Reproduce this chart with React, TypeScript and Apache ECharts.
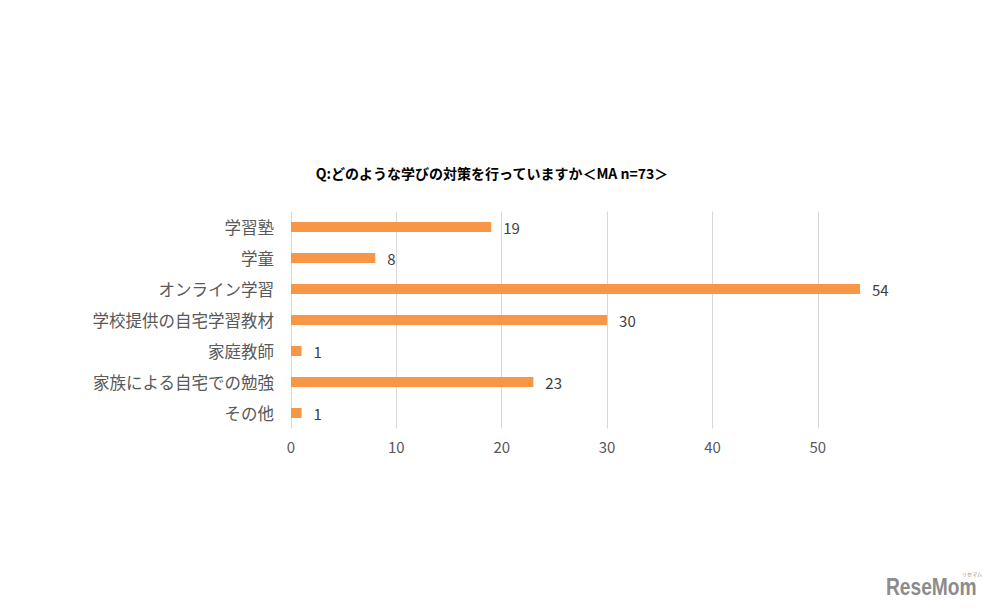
import React, { useEffect, useRef } from "react";
import * as echarts from "echarts";

const titleText = "Q:どのような学びの対策を行っていますか＜MA n=73＞";
const categories = [
  "学習塾",
  "学童",
  "オンライン学習",
  "学校提供の自宅学習教材",
  "家庭教師",
  "家族による自宅での勉強",
  "その他",
];
const values = [19, 8, 54, 30, 1, 23, 1];

export default function App() {
  const ref = useRef<HTMLDivElement>(null);
  useEffect(() => {
    document.body.style.margin = "0";
    if (!ref.current) return;
    const chart = echarts.init(ref.current, undefined, { renderer: "svg" });
    chart.setOption({
      animation: false,
      backgroundColor: "#ffffff",
      title: {
        text: titleText,
        left: 487,
        textAlign: "center",
        top: 161,
        textStyle: {
          fontSize: 14,
          fontWeight: "bold",
          color: "#000000",
          fontFamily: "Noto Sans CJK JP",
        },
      },
      grid: { left: 291, right: 136, top: 211.5, bottom: 181.5, containLabel: false },
      xAxis: {
        type: "value",
        min: 0,
        max: 54,
        interval: 10,
        axisLine: { show: false },
        axisTick: { show: false },
        splitLine: { show: true, showMaxLine: false, lineStyle: { color: "#d9d9d9", width: 1 } },
        axisLabel: {
          showMaxLabel: false,
          color: "#595959",
          fontSize: 15,
          margin: 10,
          fontFamily: "Noto Sans CJK JP",
          formatter: (v: number) => (v % 10 === 0 ? String(v) : ""),
        },
      },
      yAxis: {
        type: "category",
        data: categories,
        inverse: true,
        axisLine: { show: false },
        axisTick: { show: false },
        axisLabel: {
          color: "#595959",
          fontSize: 16.5,
          margin: 17,
          fontFamily: "Noto Sans CJK JP",
        },
      },
      series: [
        {
          type: "bar",
          data: values,
          barWidth: 10,
          itemStyle: { color: "#f79646" },
          label: {
            show: true,
            position: "right",
            distance: 12,
            color: "#404040",
            fontSize: 15,
            fontFamily: "Noto Sans CJK JP",
          },
        },
      ],
      graphic: [
        {
          type: "text",
          x: 886,
          y: 575,
          scaleX: 0.8,
          style: {
            text: "ReseMom",
            fontSize: 24,
            fontWeight: "bold",
            fill: "#8c8c8c",
            fontFamily: "Liberation Sans",
          },
        },
        {
          type: "text",
          x: 962,
          y: 571,
          style: {
            text: "リセマム",
            fontSize: 5,
            fill: "#8c8c8c",
            fontFamily: "Noto Sans CJK JP",
          },
        },
      ],
    });
    return () => chart.dispose();
  }, []);
  return <div ref={ref} style={{ width: 996, height: 610 }} />;
}
